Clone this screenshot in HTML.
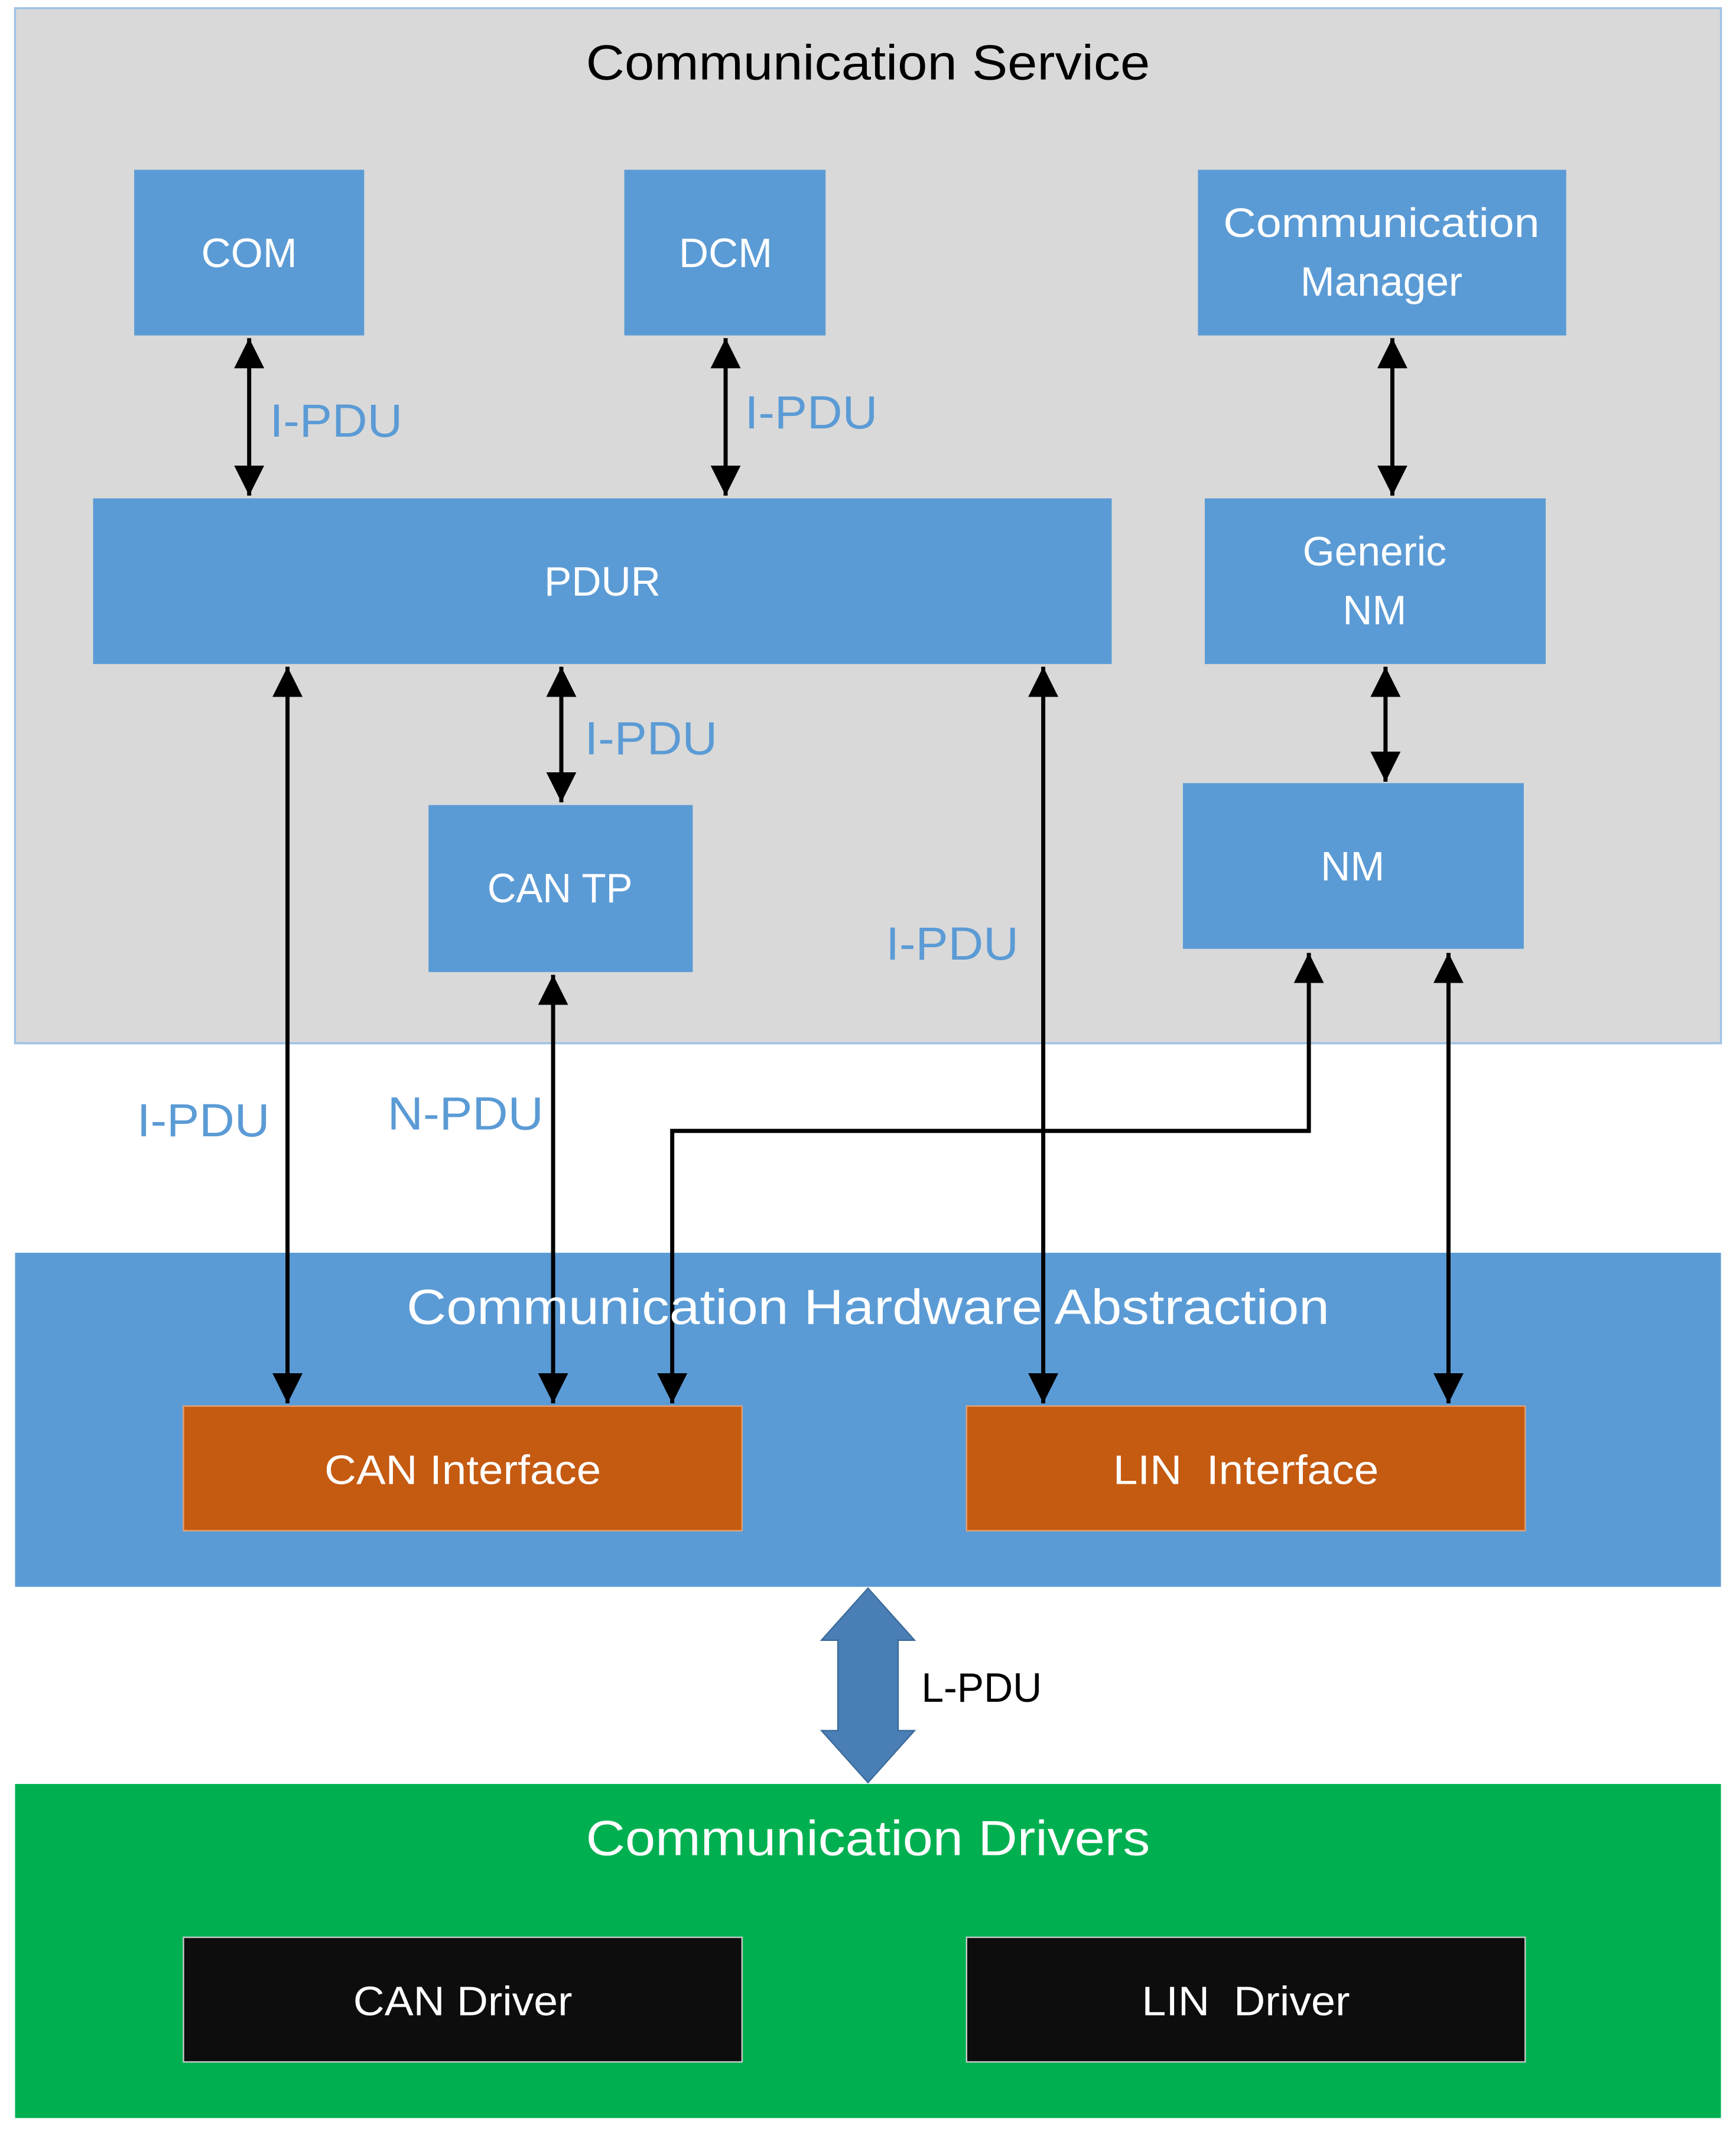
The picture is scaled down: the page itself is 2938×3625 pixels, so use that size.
<!DOCTYPE html>
<html><head><meta charset="utf-8"><style>html,body{margin:0;padding:0;background:#fff}svg{display:block}</style></head><body>
<svg width="2938" height="3625" viewBox="0 0 1268 1564.5" preserveAspectRatio="none" xmlns="http://www.w3.org/2000/svg" font-family="'Liberation Sans', sans-serif">
<defs>
<marker id="a" markerUnits="userSpaceOnUse" markerWidth="24" markerHeight="24" refX="22" refY="12" orient="auto-start-reverse"><path d="M0,1 L22,12 L0,23 z" fill="#000"/></marker>
</defs>
<rect x="11" y="6" width="1246" height="756" fill="#d9d9d9" stroke="#9dc3e6" stroke-width="1.5"/>
<text x="634" y="58" font-size="36" text-anchor="middle" fill="#000" textLength="412" lengthAdjust="spacingAndGlyphs">Communication Service</text>
<g fill="#5b9bd5">
<rect x="98" y="124" width="168" height="121"/>
<rect x="456" y="124" width="147" height="121"/>
<rect x="875" y="124" width="269" height="121"/>
<rect x="68" y="364" width="744" height="121"/>
<rect x="880" y="364" width="249" height="121"/>
<rect x="313" y="588" width="193" height="122"/>
<rect x="864" y="572" width="249" height="121"/>
</g>
<g fill="#fff" font-size="30" text-anchor="middle">
<text x="182" y="195">COM</text>
<text x="530" y="195">DCM</text>
<text x="1009" y="173" textLength="231" lengthAdjust="spacingAndGlyphs">Communication</text>
<text x="1009" y="216">Manager</text>
<text x="440" y="435">PDUR</text>
<text x="1004" y="413">Generic</text>
<text x="1004" y="456">NM</text>
<text x="409" y="659" textLength="106" lengthAdjust="spacingAndGlyphs">CAN TP</text>
<text x="988" y="643">NM</text>
</g>
<rect x="11" y="915" width="1246" height="244" fill="#5b9bd5"/>
<rect x="134" y="1027" width="408" height="91" fill="#c55a11" stroke="#e8a070" stroke-width="1"/>
<rect x="706" y="1027" width="408" height="91" fill="#c55a11" stroke="#e8a070" stroke-width="1"/>
<rect x="11" y="1303" width="1246" height="244" fill="#00b050"/>
<rect x="134" y="1415" width="408" height="91" fill="#0d0d0d" stroke="#ccc" stroke-width="1"/>
<rect x="706" y="1415" width="408" height="91" fill="#0d0d0d" stroke="#ccc" stroke-width="1"/>
<g stroke="#000" stroke-width="3" fill="none" marker-start="url(#a)" marker-end="url(#a)">
<line x1="182" y1="247" x2="182" y2="362"/>
<line x1="530" y1="247" x2="530" y2="362"/>
<line x1="1017" y1="247" x2="1017" y2="362"/>
<line x1="1012" y1="487" x2="1012" y2="571"/>
<line x1="210" y1="487" x2="210" y2="1025"/>
<line x1="410" y1="487" x2="410" y2="586"/>
<line x1="762" y1="487" x2="762" y2="1025"/>
<line x1="404" y1="712" x2="404" y2="1025"/>
<line x1="1058" y1="696" x2="1058" y2="1025"/>
<polyline points="956,696 956,826 491,826 491,1025"/>
</g>
<text x="634" y="967" font-size="36" text-anchor="middle" fill="#fff" textLength="674" lengthAdjust="spacingAndGlyphs">Communication Hardware Abstraction</text>
<text x="338" y="1084" font-size="30" text-anchor="middle" fill="#fff" textLength="202" lengthAdjust="spacingAndGlyphs">CAN Interface</text>
<text x="910" y="1084" font-size="30" text-anchor="middle" fill="#fff" xml:space="preserve" textLength="194" lengthAdjust="spacingAndGlyphs">LIN  Interface</text>
<text x="634" y="1355" font-size="36" text-anchor="middle" fill="#fff" textLength="412" lengthAdjust="spacingAndGlyphs">Communication Drivers</text>
<text x="338" y="1472" font-size="30" text-anchor="middle" fill="#fff" textLength="160" lengthAdjust="spacingAndGlyphs">CAN Driver</text>
<text x="910" y="1472" font-size="30" text-anchor="middle" fill="#fff" xml:space="preserve" textLength="152" lengthAdjust="spacingAndGlyphs">LIN  Driver</text>
<g fill="#5b9bd5" font-size="34">
<text x="197" y="319" textLength="97" lengthAdjust="spacingAndGlyphs">I-PDU</text>
<text x="544" y="313" textLength="97" lengthAdjust="spacingAndGlyphs">I-PDU</text>
<text x="427" y="551" textLength="97" lengthAdjust="spacingAndGlyphs">I-PDU</text>
<text x="647" y="701" textLength="97" lengthAdjust="spacingAndGlyphs">I-PDU</text>
<text x="100" y="830" textLength="97" lengthAdjust="spacingAndGlyphs">I-PDU</text>
<text x="283" y="825" textLength="114" lengthAdjust="spacingAndGlyphs">N-PDU</text>
</g>
<path d="M634,1160 L668,1198 L656,1198 L656,1264 L668,1264 L634,1302 L600,1264 L612,1264 L612,1198 L600,1198 Z" fill="#4a7fb5" stroke="#3a6a9a" stroke-width="1"/>
<text x="673" y="1243" font-size="30" fill="#000" textLength="88" lengthAdjust="spacingAndGlyphs">L-PDU</text>
</svg>
</body></html>
